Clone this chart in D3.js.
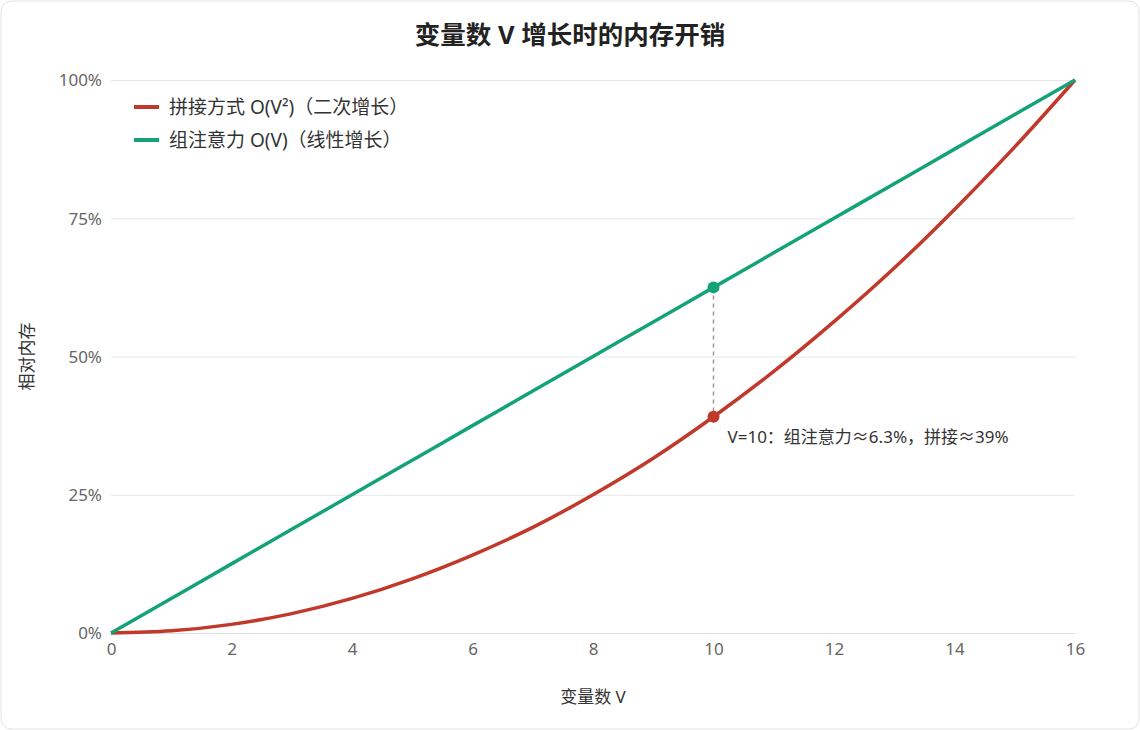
<!DOCTYPE html>
<html><head><meta charset="utf-8">
<script src="https://cdn.jsdelivr.net/npm/d3@7/dist/d3.min.js"></script>
<style>
html,body{margin:0;padding:0;background:#fff;}
body{width:1140px;height:730px;overflow:hidden;font-family:"Noto Sans","Noto Sans CJK SC",sans-serif;}
svg text{font-family:"Noto Sans","Noto Sans CJK SC",sans-serif;}
</style></head>
<body><svg id="c" width="1140" height="730"></svg>
<script>
const title = "变量数 V 增长时的内存开销";
const xLabel = "变量数 V";
const yLabel = "相对内存";
const seriesNames = ["拼接方式 O(V²)（二次增长）", "组注意力 O(V)（线性增长）"];
const seriesColors = ["#c0392b", "#13a377"];
const vValues = [0,1,2,3,4,5,6,7,8,9,10,11,12,13,14,15,16];
const concatValues = [0,0.39,1.56,3.5,6.25,9.8,14.1,19.1,25,31.6,39.1,47.3,56.3,66,76.6,87.9,100];
const groupValues = [0,6.25,12.5,18.75,25,31.25,37.5,43.75,50,56.25,62.5,68.75,75,81.25,87.5,93.75,100];
const xTicks = [0,2,4,6,8,10,12,14,16];
const yTicks = [0,25,50,75,100];
const markV = 10;
const annotation = "V=10：组注意力≈6.3%，拼接≈39%";

const svg = d3.select("#c");
const W = 1140, H = 730;
svg.append("rect").attr("x",1).attr("y",1).attr("width",W-2).attr("height",H-2)
  .attr("rx",10).attr("fill","#fff").attr("stroke","#e3e3e3");

const m = {l:111, r:1075, t:80, b:633};
const x = d3.scaleLinear().domain([0,16]).range([m.l, m.r]);
const y = d3.scaleLinear().domain([0,100]).range([m.b, m.t]);

svg.append("text").attr("x",570).attr("y",44).attr("text-anchor","middle")
  .style("font-size","25.5px").attr("font-weight","bold").attr("fill","#222").text(title);

// grid
const gy = svg.append("g").attr("transform",`translate(${m.l},0)`)
  .call(d3.axisLeft(y).tickValues(yTicks).tickFormat(d=>d+"%").tickSize(-(m.r-m.l)).tickPadding(9));
gy.attr("font-size",null).attr("font-family",null);
gy.select(".domain").remove();
gy.selectAll(".tick line").attr("stroke","#e6e6e6").attr("stroke-width",1);
gy.selectAll(".tick text").style("font-size","17px").attr("fill","#666").attr("dy","0.35em");

const gx = svg.append("g").attr("transform",`translate(0,${m.b})`)
  .call(d3.axisBottom(x).tickValues(xTicks).tickSize(0).tickPadding(10));
gx.attr("font-size",null).attr("font-family",null);
gx.select(".domain").attr("stroke","#dddddd");
gx.selectAll(".tick text").style("font-size","17px").attr("fill","#666");

svg.append("text").attr("x",(m.l+m.r)/2).attr("y",703).attr("text-anchor","middle")
  .style("font-size","17px").attr("fill","#333").text(xLabel);
svg.append("text").attr("transform",`translate(33,${(m.t+m.b)/2}) rotate(-90)`).attr("text-anchor","middle")
  .style("font-size","17px").attr("fill","#333").text(yLabel);

const line = d3.line().x((d,i)=>x(vValues[i])).y(d=>y(d)).curve(d3.curveMonotoneX);
[concatValues, groupValues].forEach((vals,k)=>{
  svg.append("path").datum(vals).attr("d",line).attr("fill","none")
    .attr("stroke",seriesColors[k]).attr("stroke-width",3.5).attr("stroke-linejoin","round");
});

const mi = vValues.indexOf(markV);
svg.append("line").attr("x1",x(markV)).attr("x2",x(markV))
  .attr("y1",y(groupValues[mi])).attr("y2",y(concatValues[mi]))
  .attr("stroke","#999").attr("stroke-width",1.5).attr("stroke-dasharray","4,4");
svg.append("circle").attr("cx",x(markV)).attr("cy",y(groupValues[mi])).attr("r",6).attr("fill",seriesColors[1]);
svg.append("circle").attr("cx",x(markV)).attr("cy",y(concatValues[mi])).attr("r",6).attr("fill",seriesColors[0]);
svg.append("text").attr("x",x(markV)+14).attr("y",y(concatValues[mi])+26)
  .style("font-size","17px").attr("fill","#333").text(annotation);

// legend
seriesNames.forEach((n,k)=>{
  const yy = 107 + k*33;
  svg.append("line").attr("x1",134).attr("x2",159).attr("y1",yy).attr("y2",yy)
    .attr("stroke",seriesColors[k]).attr("stroke-width",4);
  svg.append("text").attr("x",169).attr("y",yy+6.5).style("font-size","19px").attr("fill","#333").text(n);
});
</script></body></html>
